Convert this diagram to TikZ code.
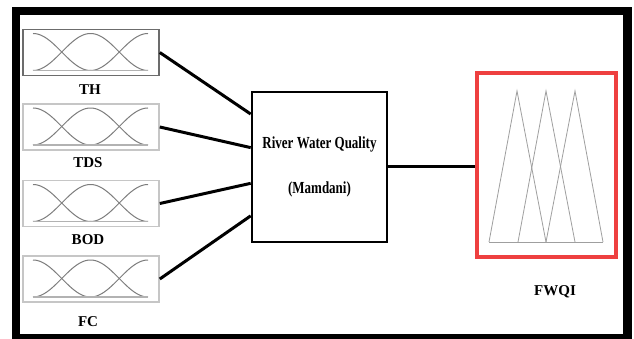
\documentclass[tikz,border=0pt]{standalone}
\usepackage{fontspec}
\setmainfont{Liberation Serif}
\usetikzlibrary{calc}
\definecolor{redbox}{RGB}{238,64,64}
\definecolor{mfline}{RGB}{125,125,125}
\tikzset{
  mfbox/.style={draw=gray!45, line width=1.6pt, minimum width=136pt, minimum height=46pt, inner sep=0pt},
  mfboxdark/.style={mfbox, draw=gray!85!black},
  fisbox/.style={draw=black, line width=2.6pt, minimum width=135pt, minimum height=150pt, inner sep=0pt, align=center, font=\bfseries\fontsize{13}{15}\selectfont},
  outbox/.style={draw=redbox, line width=3.6pt, minimum width=139pt, minimum height=184pt, inner sep=0pt},
  varlabel/.style={font=\bfseries\fontsize{15}{17}\selectfont, inner sep=0pt},
  conn/.style={draw=black, line width=3pt},
  mfcurve/.style={draw=mfline, line width=1pt},
  mfbase/.style={draw=gray!60, line width=1.8pt},
  tri/.style={draw=gray!75, line width=0.8pt}
}
\begin{document}
\begin{tikzpicture}[x=1pt,y=-1pt]
\useasboundingbox (0,0) rectangle (634,339);
% outer frame
\fill[black] (12,7) rectangle (632,339);
\fill[white] (20,15) rectangle (623,334);

% membership-function boxes
\node[mfboxdark] (th)  at (91,52.5)  {};
\node[mfbox]     (tds) at (91,127)   {};
\node[mfbox]     (bod) at (91,203.5) {};
\node[mfbox]     (fc)  at (91,279)   {};

\foreach \n/\t in {th/29.5, tds/104, bod/180.5, fc/256}{
  \pgfmathsetmacro{\base}{\t+41}
  \pgfmathsetmacro{\amp}{37}
  \draw[mfcurve] plot[domain=33:90.5, samples=40, smooth] (\x,{\base-\amp*(1+cos(180*(\x-33)/57.5))/2});
  \draw[mfcurve] plot[domain=33:148, samples=60, smooth] (\x,{\base-\amp*(1+cos(180*(\x-90.5)/57.5))/2});
  \draw[mfcurve] plot[domain=90.5:148, samples=40, smooth] (\x,{\base-\amp*(1+cos(180*(\x-148)/57.5))/2});
  \draw[mfbase] (33,\base) -- (148,\base);
}

% labels
\node[varlabel] (lth)  at (90,90)  {TH};
\node[varlabel] (ltds) at (88,163) {TDS};
\node[varlabel] (lbod) at (88,240) {BOD};
\node[varlabel] (lfc)  at (88,322) {FC};

% central FIS box
\node[fisbox] (fis) at (319.5,167) {\scalebox{1}[1.3]{River Water Quality}\\[28pt]\scalebox{1}[1.3]{(Mamdani)}};

% output box
\node[outbox] (out) at (546.5,165) {};
\draw[tri] (489,242) -- (517,91) -- (546,242);
\draw[tri] (518,242) -- (546,91) -- (575,242);
\draw[tri] (546,242) -- (575,91) -- (603,242);
\draw[tri] (489,242) -- (603,242);
\node[varlabel] (lout) at (555,292) {FWQI};

% connectors
\coordinate (in1) at ($(fis.north west)!0.153!(fis.south west)$);
\coordinate (in2) at ($(fis.north west)!0.373!(fis.south west)$);
\coordinate (in3) at ($(fis.north west)!0.607!(fis.south west)$);
\coordinate (in4) at ($(fis.north west)!0.82!(fis.south west)$);
\draw[conn] (th.east)  -- (in1);
\draw[conn] (tds.east) -- (in2);
\draw[conn] (bod.east) -- (in3);
\draw[conn] (fc.east)  -- (in4);
\draw[conn] (fis.east) -- (fis.east -| out.west);
\end{tikzpicture}
\end{document}
